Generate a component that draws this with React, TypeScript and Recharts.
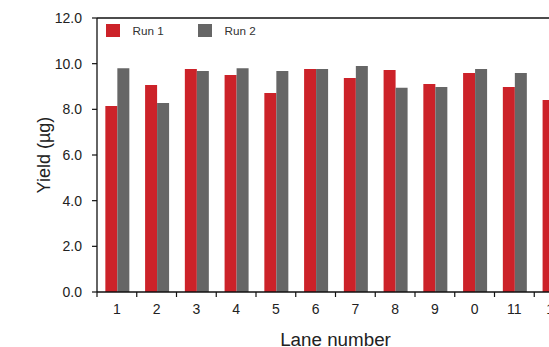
import React from 'react';
import { BarChart, Bar, XAxis, YAxis, Legend, ReferenceLine } from 'recharts';

const LANES = ['1', '2', '3', '4', '5', '6', '7', '8', '9', '0', '11', '12'];
const RUN_1 = [8.15, 9.07, 9.77, 9.5, 8.72, 9.77, 9.37, 9.72, 9.11, 9.59, 8.98, 8.41];
const RUN_2 = [9.8, 8.28, 9.68, 9.8, 9.68, 9.77, 9.9, 8.94, 8.98, 9.77, 9.59, 9.45];
const Y_TICKS = [0, 2, 4, 6, 8, 10, 12];

const RED = '#cc2229';
const GREY = '#666666';
const FONT = '"Liberation Sans", Arial, Helvetica, sans-serif';

// the chart is wider than the window, the last lane gets cut off like in the original
const W = 600;
const H = 347;
const Y_AXIS_W = 97;
const MARGIN = { top: 18, right: 26, left: 0, bottom: 0 };
const BAND = (W - Y_AXIS_W - MARGIN.left - MARGIN.right) / LANES.length;

const data = LANES.map((lane, i) => ({ lane, run1: RUN_1[i], run2: RUN_2[i] }));

const LaneTick = ({ x, y, payload }: { x?: number; y?: number; payload?: { value: string } }) => {
  const left = (x ?? 0) - BAND / 2;
  const axisY = (y ?? 0) - 12;
  return (
    <g>
      <line x1={left} x2={left} y1={axisY} y2={axisY + 5} stroke="#111" strokeWidth={1.2} />
      <text x={x} y={y} dy="0.71em" textAnchor="middle" fontSize={14} fill="#222" fontFamily={FONT}>
        {payload?.value}
      </text>
    </g>
  );
};

const RunLegend = ({ payload }: { payload?: { value: string; color: string }[] }) => (
  <div style={{ display: 'flex', fontFamily: FONT, fontSize: 11.7, color: '#333' }}>
    {(payload ?? []).map((item) => (
      <div key={item.value} style={{ display: 'flex', alignItems: 'center', width: 92 }}>
        <div style={{ width: 14, height: 13, background: item.color, marginRight: 12.5 }} />
        <span>{item.value}</span>
      </div>
    ))}
  </div>
);

export default function App() {
  return (
    <div style={{ position: 'fixed', left: 0, top: 0, width: 549, height: 347, overflow: 'hidden', background: '#fff' }}>
      <BarChart width={W} height={H} data={data} margin={MARGIN} barGap={0} barCategoryGap="21%">
        <YAxis
          width={Y_AXIS_W}
          domain={[0, 12]}
          ticks={Y_TICKS}
          tickFormatter={(v: number) => v.toFixed(1)}
          tickSize={5}
          tickMargin={10}
          axisLine={{ stroke: '#111', strokeWidth: 1.3 }}
          tickLine={{ stroke: '#111', strokeWidth: 1.2 }}
          tick={{ fontSize: 14, fill: '#222', fontFamily: FONT }}
          label={{
            content: () => (
              <text
                x={44}
                y={155}
                transform="rotate(-90 44 155)"
                textAnchor="middle"
                dominantBaseline="central"
                fontSize={18}
                fill="#222"
                fontFamily={FONT}
              >
                Yield (µg)
              </text>
            ),
          }}
        />
        <XAxis
          dataKey="lane"
          height={H - 292}
          tickSize={5}
          tickMargin={7}
          tickLine={false}
          interval={0}
          axisLine={{ stroke: '#111', strokeWidth: 1.3 }}
          tick={<LaneTick />}
          label={{
            content: () => (
              <text x={335.5} y={345.5} textAnchor="middle" fontSize={18.8} fill="#222" fontFamily={FONT}>
                Lane number
              </text>
            ),
          }}
        />
        <ReferenceLine y={12} stroke="#111" strokeWidth={1.3} />
        <Legend
          layout="horizontal"
          verticalAlign="middle"
          align="center"
          content={<RunLegend />}
          wrapperStyle={{ top: 24, left: 106, width: 200, height: 14 }}
        />
        <Bar dataKey="run1" name="Run 1" fill={RED} isAnimationActive={false} />
        <Bar dataKey="run2" name="Run 2" fill={GREY} isAnimationActive={false} />
      </BarChart>
    </div>
  );
}
